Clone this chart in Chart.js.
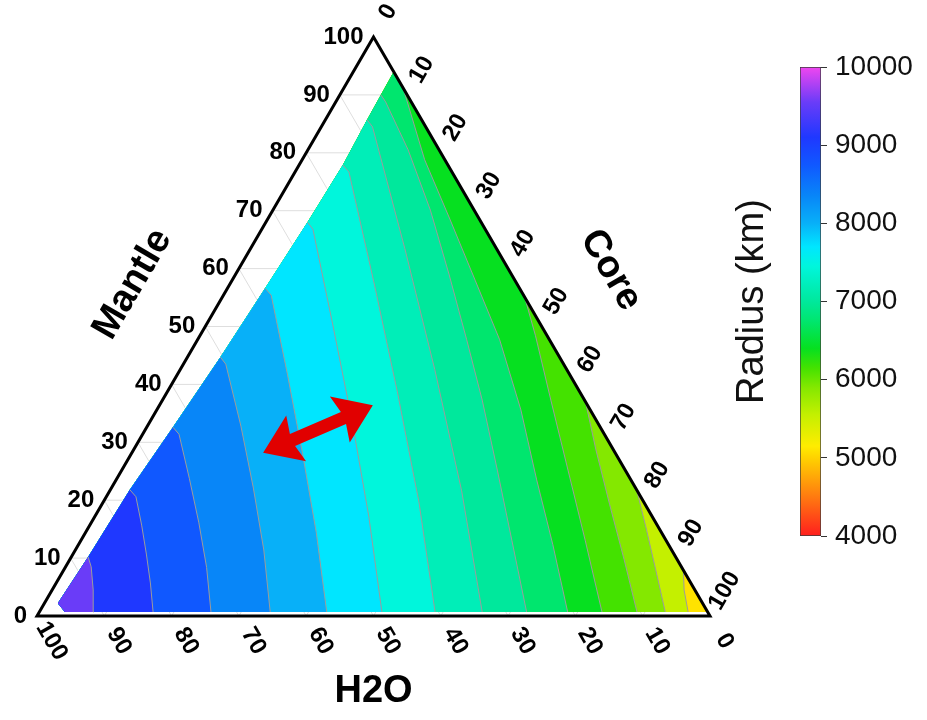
<!DOCTYPE html>
<html>
<head>
<meta charset="utf-8">
<title>Planet radius vs composition</title>
<script src="https://cdn.jsdelivr.net/npm/chart.js@4.4.1/dist/chart.umd.min.js"></script>
<style>
  html, body { margin: 0; padding: 0; background: #fff; }
  #wrap { position: relative; width: 927px; height: 720px; overflow: hidden; }
  #ternary { position: absolute; left: 0; top: 0; }
  #scale { position: absolute; left: 730px; top: 0; }
</style>
</head>
<body>
<div id="wrap">
  <canvas id="ternary" width="927" height="720"></canvas>
  <canvas id="scale" width="197" height="720"></canvas>
</div>
<script>
// --- Data: compositions are [H2O %, Mantle %], core makes up the rest ---
const tickValues = [0, 10, 20, 30, 40, 50, 60, 70, 80, 90, 100];

// low-core edge of the computed grid, from the bottom up to the tip
const domainLeft = [[95.8, 2.2], [87.3, 10.2], [75.3, 21.8], [63.5, 32.6], [50.4, 44.7],
                    [37.8, 56.6], [25.8, 68.0], [15.6, 77.9], [8.1, 85.7]];
const domainTip = [0, 94];
const domainBottom = [[95.5, 0.7], [0, 0.7]];

// contour boundaries, water-rich side first
const contourLines = [
  [[91.2, 0.7], [89.4, 4.5], [87.7, 8.5], [87.3, 10.2]],
  [[82.4, 0.7], [80.3, 5.7], [78.4, 10.7], [76.6, 15.7], [75.0, 20.6], [75.3, 21.8]],
  [[73.8, 0.7], [70.6, 8.4], [67.9, 16.1], [65.5, 23.7], [63.2, 31.4], [63.5, 32.6]],
  [[65.0, 0.7], [60.6, 11.4], [56.8, 22.1], [53.3, 32.8], [50.2, 43.5], [50.4, 44.7]],
  [[56.6, 0.7], [51.3, 14.4], [46.5, 28.1], [41.9, 41.8], [37.5, 55.4], [37.8, 56.6]],
  [[48.4, 0.7], [42.1, 17.2], [36.3, 33.8], [30.9, 50.3], [25.6, 66.8], [25.8, 68.0]],
  [[40.5, 0.7], [33.4, 19.7], [27.1, 38.7], [21.1, 57.7], [15.3, 76.7], [15.6, 77.9]],
  [[33.5, 0.7], [26.1, 21.6], [19.6, 42.6], [13.6, 63.5], [7.9, 84.5], [8.1, 85.7]],
  [[26.9, 0.7], [22.9, 13.1], [19.0, 25.2], [15.2, 37.3], [12.3, 47.7], [9.3, 58.9], [6.5, 70.1], [4.6, 80.5], [3.8, 88.8], [3.9, 90.0]],
  [[20.8, 0.7], [17.2, 12.3], [14.0, 23.5], [10.3, 35.6], [7.4, 47.7], [5.9, 58.0], [4.4, 68.4], [3.0, 78.8], [0, 91.2]],
  [[15.7, 0.7], [12.0, 13.1], [8.5, 25.2], [5.0, 37.3], [1.7, 48.5], [0, 55.1]],
  [[10.5, 0.7], [7.9, 9.7], [5.3, 19.2], [2.6, 28.7], [0, 37.0]],
  [[6.3, 0.7], [4.1, 7.9], [1.9, 15.2], [0, 21.8]],
  [[2.9, 0.7], [1.6, 4.5], [0, 7.9]]
];

// radius (km) of each filled band, water-rich corner first
const bandRadius = [9550, 9100, 8750, 8350, 8000, 7700, 7450, 7200, 7000, 6750, 6400, 6150, 5900, 5550, 5100];

const radiusMin = 4000;
const radiusMax = 10000;
const radiusStep = 1000;

// double arrow drawn across the bands
const arrowEnds = [[52.3, 28.2], [31.9, 36.4]];

// --- Colour scale ---
const rainbowStops = [
  [4000, '#ff1e1e'], [4500, '#ff7a10'], [5000, '#ffd200'], [5150, '#ffec00'],
  [5550, '#c4f000'], [5900, '#84e800'], [6150, '#44e200'], [6400, '#06e020'],
  [6750, '#00e66e'], [7000, '#00e89c'], [7200, '#00eeb8'], [7450, '#00f6dc'],
  [7700, '#00e6ff'], [8000, '#08b0f8'], [8350, '#0886f8'], [8750, '#1058ff'],
  [9100, '#1f38ff'], [9550, '#6a3cf8'], [10000, '#f046f0']
];

function hexToRgb(h) {
  const n = parseInt(h.slice(1), 16);
  return [(n >> 16) & 255, (n >> 8) & 255, n & 255];
}

function radiusColor(r) {
  for (let i = 0; i < rainbowStops.length - 1; i++) {
    const [v0, c0] = rainbowStops[i];
    const [v1, c1] = rainbowStops[i + 1];
    if (r >= v0 && r <= v1) {
      const t = (r - v0) / (v1 - v0);
      const a = hexToRgb(c0), b = hexToRgb(c1);
      const c = a.map((ch, k) => Math.round(ch + (b[k] - ch) * t));
      return `rgb(${c[0]},${c[1]},${c[2]})`;
    }
  }
  return rainbowStops[rainbowStops.length - 1][1];
}

// --- Ternary helpers ---
// x runs along the bottom edge (core + half mantle), y is the mantle share
const tern = ([h, m]) => ({ x: 100 - h - m / 2, y: m });

// area on the water side of a contour, closed along the grid edge
function regionFor(line) {
  const last = line[line.length - 1];
  const onRight = last[0] === 0;
  const pts = line.slice();
  if (onRight) pts.push(domainTip);
  const cut = onRight ? domainTip[1] : last[1];
  domainLeft.filter(p => p[1] < cut - 0.05).reverse().forEach(p => pts.push(p));
  pts.push(domainBottom[0]);
  return pts;
}

const domain = [domainBottom[0], ...domainLeft, domainTip, domainBottom[1]];
const outline = [[50, 0], [0, 0], [0, 100], [100, 0], [50, 0]];

const gridLines = [];
tickValues.slice(1, -1).forEach(v => {
  gridLines.push([[100 - v, v], [0, v]]);       // constant mantle
  gridLines.push([[v, 0], [v, 100 - v]]);       // constant H2O
  gridLines.push([[100 - v, 0], [0, 100 - v]]); // constant core
});

// --- Datasets ---
const datasets = [];
datasets.push({
  data: outline.map(tern), borderColor: '#000', borderWidth: 3,
  borderJoinStyle: 'miter', fill: false, clip: false, order: 0
});
contourLines.forEach(line => datasets.push({
  data: line.map(tern), borderColor: '#9c9c9c', borderWidth: 1, fill: false, order: 1
}));
datasets.push({
  data: domain.map(tern), fill: 'shape', backgroundColor: radiusColor(bandRadius[bandRadius.length - 1]),
  borderColor: 'transparent', borderWidth: 0, order: 40
});
contourLines.forEach((line, i) => datasets.push({
  data: regionFor(line).map(tern), fill: 'shape', backgroundColor: radiusColor(bandRadius[i]),
  borderColor: 'transparent', borderWidth: 0, order: 21 + i
}));
gridLines.forEach(line => datasets.push({
  data: line.map(tern), borderColor: '#dedede', borderWidth: 1, fill: false, order: 50
}));

const FONT = '"Liberation Sans", Arial, Helvetica, sans-serif';

function drawRotated(ctx, text, x, y, angle) {
  ctx.save();
  ctx.translate(x, y);
  ctx.rotate(angle);
  ctx.fillText(text, 0, 0);
  ctx.restore();
}

// --- Axis labels, titles and the arrow ---
const ternaryLabels = {
  id: 'ternaryLabels',
  afterDatasetsDraw(chart) {
    const { ctx, scales: { x, y } } = chart;
    const pix = ([h, m]) => ({ x: x.getPixelForValue(100 - h - m / 2), y: y.getPixelForValue(m) });
    const unit = (p, q) => {
      const dx = q.x - p.x, dy = q.y - p.y, l = Math.hypot(dx, dy);
      return { x: dx / l, y: dy / l };
    };
    const A = pix([100, 0]), B = pix([0, 0]), T = pix([0, 100]);
    const up = unit(A, T);
    const down = unit(T, B);

    ctx.save();
    ctx.fillStyle = '#000';
    ctx.font = 'bold 24px ' + FONT;

    // Mantle ticks
    ctx.textAlign = 'right';
    ctx.textBaseline = 'middle';
    tickValues.forEach(v => {
      const p = pix([100 - v, v]);
      ctx.fillText(String(v), p.x - 10, p.y);
    });

    // Core ticks
    ctx.textAlign = 'center';
    tickValues.forEach(v => {
      const p = pix([0, 100 - v]);
      drawRotated(ctx, String(v), p.x + 29 * up.x, p.y + 29 * up.y, Math.atan2(up.y, up.x));
    });

    // H2O ticks
    tickValues.forEach(v => {
      const p = pix([v, 0]);
      drawRotated(ctx, String(v), p.x + 29 * down.x, p.y + 29 * down.y, Math.atan2(down.y, down.x));
    });

    // titles
    ctx.font = 'bold 38px ' + FONT;
    const mL = pix([50, 50]);
    drawRotated(ctx, 'Mantle', mL.x + 84 * up.y, mL.y - 84 * up.x, Math.atan2(up.y, up.x));
    const mR = pix([0, 50]);
    drawRotated(ctx, 'Core', mR.x + 88 * down.y - 14 * down.x, mR.y - 88 * down.x - 14 * down.y,
      Math.atan2(down.y, down.x));
    const mB = pix([50, 0]);
    ctx.fillText('H2O', mB.x, mB.y + 76);

    // double arrow
    const a = pix(arrowEnds[0]), b = pix(arrowEnds[1]);
    const u = unit(a, b), n = { x: -u.y, y: u.x };
    const head = 36, hw = 25, sw = 6.5;
    const P = (o, s, t) => [o.x + s * u.x + t * n.x, o.y + s * u.y + t * n.y];
    const poly = [
      P(a, 0, 0), P(a, head, hw), P(a, head - 4, sw), P(b, -head + 4, sw), P(b, -head, hw),
      P(b, 0, 0), P(b, -head, -hw), P(b, -head + 4, -sw), P(a, head - 4, -sw), P(a, head, -hw)
    ];
    ctx.fillStyle = '#e10000';
    ctx.beginPath();
    poly.forEach(([px, py], i) => (i ? ctx.lineTo(px, py) : ctx.moveTo(px, py)));
    ctx.closePath();
    ctx.fill();
    ctx.restore();
  }
};

new Chart(document.getElementById('ternary'), {
  type: 'line',
  data: { datasets },
  options: {
    responsive: false,
    animation: false,
    events: [],
    layout: { padding: { left: 37, right: 927 - 710, top: 37, bottom: 720 - 616 } },
    scales: {
      x: { type: 'linear', min: 0, max: 100, display: false },
      y: { type: 'linear', min: 0, max: 100, display: false }
    },
    elements: {
      point: { radius: 0, hoverRadius: 0 },
      line: { tension: 0 }
    },
    plugins: { legend: { display: false }, tooltip: { enabled: false } }
  },
  plugins: [ternaryLabels]
});

// --- Colour bar ---
function barGradient(context) {
  const chart = context.chart;
  const ys = chart.scales.y;
  if (!chart.chartArea || !ys) return radiusColor(7000);
  const g = chart.ctx.createLinearGradient(0, ys.getPixelForValue(radiusMin), 0, ys.getPixelForValue(radiusMax));
  rainbowStops.forEach(([v, c]) => g.addColorStop((v - radiusMin) / (radiusMax - radiusMin), c));
  return g;
}

new Chart(document.getElementById('scale'), {
  type: 'bar',
  data: {
    labels: [''],
    datasets: [{
      data: [[radiusMin, radiusMax]],
      backgroundColor: barGradient,
      borderColor: '#3c3c3c',
      borderWidth: 1,
      borderSkipped: false,
      barPercentage: 1,
      categoryPercentage: 1
    }]
  },
  options: {
    responsive: false,
    animation: false,
    events: [],
    layout: { padding: { top: 67, bottom: 720 - 536, left: 0, right: 0 } },
    plugins: { legend: { display: false }, tooltip: { enabled: false } },
    scales: {
      x: { display: false },
      y: {
        position: 'right', min: radiusMin, max: radiusMax,
        ticks: {
          stepSize: radiusStep, padding: 8, color: '#111', font: { size: 28, family: FONT },
          callback: v => String(v)
        },
        grid: { drawOnChartArea: false, tickLength: 6, color: '#333', lineWidth: 1 },
        border: { display: false },
        afterFit(s) { s.width = 106; }
      },
      yTitle: {
        position: 'left', min: radiusMin, max: radiusMax,
        ticks: { display: false },
        grid: { display: false },
        border: { display: false },
        title: { display: true, text: 'Radius (km)', color: '#111', font: { size: 38, family: FONT }, padding: 0 },
        afterFit(s) { s.width = 70; }
      }
    }
  }
});
</script>
</body>
</html>
